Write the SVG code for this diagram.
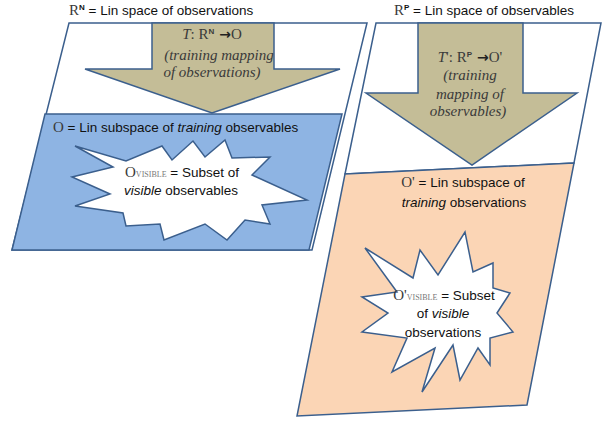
<svg xmlns="http://www.w3.org/2000/svg" width="602" height="421" viewBox="0 0 602 421">
<style>
.ln{stroke:#3B5F8D;stroke-width:1.5;stroke-linejoin:miter}
.sans{font-family:"Liberation Sans",Arial,sans-serif;font-size:13.5px;fill:#111}
.ser{font-family:"Liberation Serif","Times New Roman",serif;fill:#3a3a3a}
.arrowtxt{font-family:"Liberation Serif","Times New Roman",serif;font-size:15px;font-style:italic;fill:#3a3a3a}
.sub{font-family:"Liberation Serif","Times New Roman",serif;font-size:8px;fill:#777}
.arr{font-family:"DejaVu Sans",sans-serif;font-style:normal;font-weight:bold;font-size:14px;fill:#222}
</style>
<rect width="602" height="421" fill="#fff"/>

<g id="left-space">
<polygon class="ln" fill="#fff" points="69,23 367,23 312,250 12,250"/>
<text class="sans" x="69" y="15"><tspan class="ser" font-size="15" fill="#555">R</tspan><tspan font-size="8" dy="-5" font-weight="bold">N</tspan><tspan dy="5"> = Lin space of observations</tspan></text>
</g>

<g id="left-arrow">
<polygon class="ln" stroke-width="1" fill="#C4BD97" points="152,23 274,23 274,69 340,69 212,113 85,69 152,69"/>
<text class="arrowtxt" x="212" y="39" text-anchor="middle">T<tspan font-style="normal">: R</tspan><tspan font-style="normal" font-family="Liberation Sans" font-size="8" dy="-5" font-weight="bold">N</tspan><tspan dy="5" class="arr"> →</tspan><tspan font-style="normal">O</tspan></text>
<text class="arrowtxt" x="219" y="60" text-anchor="middle">(training mapping</text>
<text class="arrowtxt" x="212" y="77" text-anchor="middle">of observations)</text>
</g>

<g id="left-subspace">
<polygon class="ln" fill="#8EB4E3" points="45,114 342,114 309,250 12,250"/>
<text class="sans" x="53" y="132"><tspan class="ser" font-size="15" fill="#444">O</tspan> = Lin subspace of <tspan font-style="italic">training</tspan> observables</text>
</g>

<g id="left-visible">
<polygon class="ln" fill="#fff" points="75,146 126,161 162,146 172,160 193,141 205,157 225,140 232,158 270,157 252,175 307,200 262,205 270,224 245,220 227,240 205,224 164,240 160,224 126,226 123,213 75,206 110,194 72,177 113,167"/>
<text class="sans" x="182" y="177" text-anchor="middle"><tspan class="ser" font-size="15" fill="#666">O</tspan><tspan class="sub">VISIBLE</tspan> = Subset of</text>
<text class="sans" x="181" y="195" text-anchor="middle"><tspan font-style="italic">visible</tspan> observables</text>
</g>

<g id="right-space">
<polygon class="ln" fill="#fff" points="376,23 601,23 574,163 345,174"/>
<text class="sans" x="394" y="15"><tspan class="ser" font-size="15" fill="#555">R</tspan><tspan font-size="8" dy="-5" font-weight="bold">P</tspan><tspan dy="5"> = Lin space of observables</tspan></text>
</g>

<g id="right-arrow">
<polygon class="ln" stroke-width="1" fill="#C4BD97" points="418,23 523,23 523,93 577,93 472,165 366,93 418,93"/>
<text class="arrowtxt" x="470" y="62" text-anchor="middle">T<tspan font-style="normal">': R</tspan><tspan font-style="normal" font-family="Liberation Sans" font-size="8" dy="-5" font-weight="bold">P</tspan><tspan dy="5" class="arr"> →</tspan><tspan font-style="normal">O'</tspan></text>
<text class="arrowtxt" x="470" y="80" text-anchor="middle">(training</text>
<text class="arrowtxt" x="470" y="99" text-anchor="middle">mapping of</text>
<text class="arrowtxt" x="468" y="116" text-anchor="middle">observables)</text>
</g>

<g id="right-subspace">
<polygon class="ln" fill="#FBD5B5" points="345,174 574,163 527,405 297,416"/>
<text class="sans" x="463" y="187" text-anchor="middle"><tspan class="ser" font-size="15" fill="#444">O'</tspan> = Lin subspace of</text>
<text class="sans" x="464" y="207" text-anchor="middle"><tspan font-style="italic">training</tspan> observations</text>
</g>

<g id="right-visible">
<polygon class="ln" fill="#fff" points="365,248 413,278 420,250 438,275 465,232 473,272 493,263 493,288 510,293 497,313 513,332 490,338 490,365 478,348 460,380 453,345 422,392 435,348 392,372 407,338 362,332 388,313 362,297 397,292"/>
<text class="sans" x="444" y="300" text-anchor="middle"><tspan class="ser" font-size="15" fill="#666">O'</tspan><tspan class="sub">VISIBLE</tspan> = Subset</text>
<text class="sans" x="443" y="318" text-anchor="middle">of <tspan font-style="italic">visible</tspan></text>
<text class="sans" x="443" y="337" text-anchor="middle">observations</text>
</g>

<g id="connectors"/>
</svg>
